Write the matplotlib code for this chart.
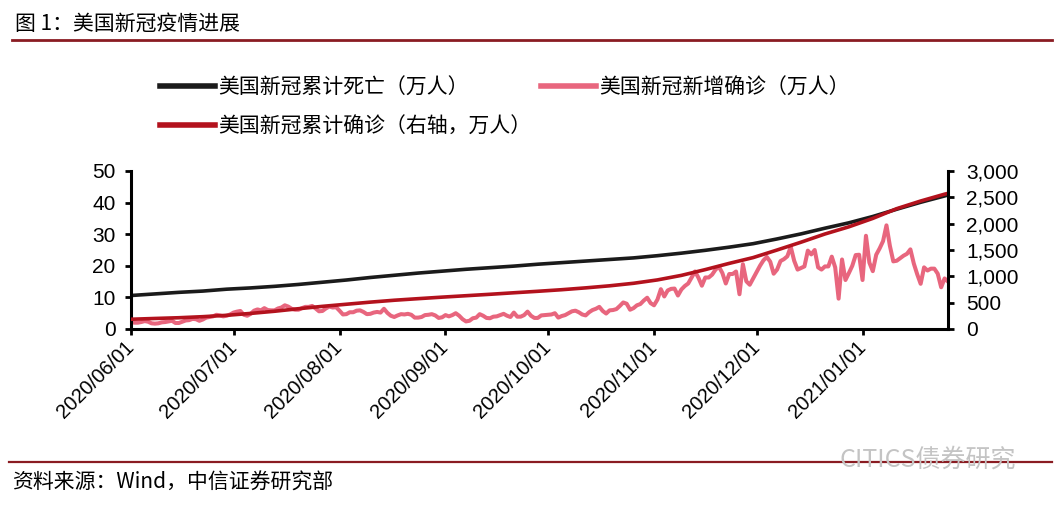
import matplotlib
matplotlib.use("Agg")
import matplotlib.pyplot as plt
import matplotlib.dates as mdates
from matplotlib.lines import Line2D
import pandas as pd
import numpy as np

CJK = ['Noto Sans CJK SC', 'DejaVu Sans']
plt.rcParams['font.family'] = ['Liberation Sans', 'Noto Sans CJK SC', 'DejaVu Sans']

# ---------------- data ----------------
title = "图 1：美国新冠疫情进展"
source = "资料来源：Wind，中信证券研究部"
watermark = "CITICS债券研究"
label_deaths = "美国新冠累计死亡（万人）"
label_cases = "美国新冠累计确诊（右轴，万人）"
label_new = "美国新冠新增确诊（万人）"

# daily new confirmed cases (10k persons), 2020-06-01 .. 2021-01-26
new_jun = [2.2, 2.0, 2.0, 2.2, 2.5, 2.3, 1.8, 1.7, 1.8, 2.1, 2.2, 2.4, 2.6, 1.9, 1.9,
           2.3, 2.7, 2.8, 3.2, 3.1, 2.6, 3.0, 3.6, 3.8, 4.0, 4.5, 4.3, 4.0, 4.2, 4.6]
new_jul = [5.2, 5.5, 5.7, 4.5, 4.2, 4.8, 5.8, 6.2, 5.9, 6.6, 6.0, 5.9, 5.9, 6.5, 6.8,
           7.5, 7.1, 6.4, 6.1, 6.1, 6.6, 7.0, 7.0, 7.3, 6.5, 5.6, 5.7, 6.5, 7.1, 6.8, 6.9]
new_aug = [5.8, 4.6, 4.7, 5.3, 5.3, 5.8, 5.9, 5.4, 4.7, 4.8, 5.2, 5.4, 5.2, 6.4, 5.1,
           4.2, 3.8, 4.3, 4.7, 4.6, 4.8, 4.5, 3.6, 3.6, 3.8, 4.4, 4.5, 4.7, 4.3, 3.5, 3.7]
new_sep = [4.4, 4.0, 4.4, 5.0, 4.2, 3.1, 2.4, 2.6, 3.4, 3.6, 4.7, 4.2, 3.5, 3.4, 3.9,
           4.0, 4.4, 4.8, 4.2, 3.8, 5.2, 3.9, 3.9, 4.4, 5.5, 4.2, 3.5, 3.5, 4.3, 4.4]
new_oct = [4.5, 4.6, 5.0, 3.6, 4.1, 4.4, 5.0, 5.6, 5.8, 5.3, 4.6, 4.3, 5.3, 6.0, 6.4,
           7.0, 5.7, 4.9, 5.9, 6.0, 6.3, 7.3, 8.4, 8.0, 6.1, 6.6, 7.5, 7.9, 9.0, 9.9, 8.2]
new_nov = [7.5, 9.3, 12.6, 10.3, 12.2, 12.7, 12.8, 10.6, 12.5, 13.6, 14.4, 16.3, 18.2, 16.2, 13.7,
           16.3, 16.3, 17.2, 18.8, 19.7, 17.7, 14.4, 17.4, 17.4, 18.2, 11.0, 20.5, 15.1, 14.0, 16.0]
new_dec = [18.0, 20.0, 21.7, 22.8, 21.3, 17.5, 18.8, 21.5, 22.1, 23.0, 26.0, 21.6, 18.8, 19.3, 19.8,
           24.8, 23.6, 25.0, 19.5, 18.8, 19.8, 19.8, 22.9, 19.5, 9.6, 22.0, 15.5, 17.7, 20.0, 23.4, 23.5]
new_jan = [15.5, 29.5, 21.0, 18.3, 23.5, 25.5, 27.8, 32.8, 26.3, 21.4, 21.6, 22.4, 23.2, 23.8, 25.2,
           20.7, 17.3, 14.3, 19.5, 18.5, 19.1, 19.1, 17.5, 13.2, 16.0, 15.0]

# weekly cumulative deaths (10k) and cases (10k), 2020-06-01 every 7 days, + 2021-01-26
cum_deaths = [10.6, 11.1, 11.6, 12.0, 12.6, 13.0, 13.5, 14.1, 14.8, 15.5, 16.3, 17.0, 17.7, 18.3,
              18.9, 19.4, 19.9, 20.5, 21.0, 21.5, 22.0, 22.5, 23.2, 24.0, 24.9, 25.9, 27.0,
              28.5, 30.1, 31.9, 33.6, 35.6, 37.9, 40.1, 42.1, 42.4]
cum_cases = [185, 200, 214, 234, 260, 296, 337, 385, 430, 470, 510, 546, 576, 605,
             632, 659, 688, 716, 746, 781, 820, 868, 932, 1018, 1128, 1246, 1356,
             1500, 1648, 1804, 1940, 2100, 2285, 2430, 2560, 2575]

new_cases = new_jun + new_jul + new_aug + new_sep + new_oct + new_nov + new_dec + new_jan
daily_dates = pd.date_range("2020-06-01", periods=len(new_cases), freq="D")
weekly_dates = pd.date_range("2020-06-01", periods=35, freq="7D").append(pd.DatetimeIndex(["2021-01-26"]))

# ---------------- colours ----------------
c_black = "#1b1b1b"
c_pink = "#e8667e"
c_red = "#b3121d"
c_rule = "#8a1c22"

fig = plt.figure(figsize=(10.63, 5.08), dpi=100)
ax = fig.add_axes([131 / 1063, 1 - 329 / 508, (948 - 131) / 1063, (329 - 171) / 508])
ax2 = ax.twinx()

ax.plot(weekly_dates, cum_deaths, color=c_black, lw=2.6)
ax.plot(daily_dates, new_cases, color=c_pink, lw=2.9, solid_joinstyle='round')
ax2.plot(weekly_dates, cum_cases, color=c_red, lw=2.6)

ax.set_xlim(pd.Timestamp("2020-06-01"), pd.Timestamp("2021-01-26"))
ax.set_ylim(0, 50)
ax2.set_ylim(0, 3000)
ax.set_yticks(np.arange(0, 51, 10))
ax2.set_yticks(np.arange(0, 3001, 500))
ax2.yaxis.set_major_formatter(matplotlib.ticker.FuncFormatter(lambda v, p: f"{int(v):,}"))

ax.xaxis.set_major_locator(mdates.MonthLocator(bymonthday=1))
ax.xaxis.set_major_formatter(mdates.DateFormatter("%Y/%m/%d"))

for a in (ax, ax2):
    a.spines['top'].set_visible(False)
    for s in ('left', 'right', 'bottom'):
        a.spines[s].set_linewidth(2.2)
        a.spines[s].set_color('black')
ax.spines['right'].set_visible(False)
ax2.spines['left'].set_visible(False)
ax2.spines['bottom'].set_visible(False)

ax.tick_params(axis='y', direction='out', length=4, width=2, labelsize=15, pad=7)
ax2.tick_params(axis='y', direction='out', length=4, width=2, labelsize=15, pad=9)
ax.tick_params(axis='x', direction='out', length=4, width=2, labelsize=14.5, pad=7)
for lab in ax.get_xticklabels():
    lab.set_rotation(45)
    lab.set_ha('right')
    lab.set_va('center')
    lab.set_rotation_mode('anchor')

# legend
handles = [Line2D([], [], color=c_black, lw=4),
           Line2D([], [], color=c_red, lw=4),
           Line2D([], [], color=c_pink, lw=4)]
labels = [label_deaths, label_cases, label_new]
fig.legend(handles, labels, ncol=2, loc='upper left', bbox_to_anchor=(0.133, 0.886),
           frameon=False, prop={'family': CJK, 'size': 15}, handlelength=2.65,
           handletextpad=0.15, columnspacing=0.45, labelspacing=0.8)

# title, rules, source
fig.text(0.014, 1 - 24 / 508, title, family=CJK, fontsize=15, va='center', ha='left')
fig.add_artist(Line2D([0.011, 0.99], [1 - 40 / 508] * 2, transform=fig.transFigure, color=c_rule, lw=2))
fig.add_artist(Line2D([0.008, 0.99], [1 - 462 / 508] * 2, transform=fig.transFigure, color=c_rule, lw=1.6))
fig.text(0.011, 1 - 483 / 508, source, family=CJK, fontsize=15, va='center', ha='left')
fig.text(0.79, 1 - 460 / 508, watermark, family=CJK, fontsize=18, va='center', ha='left', color='#c4c4c4')

fig.savefig("out.png", dpi=100)
